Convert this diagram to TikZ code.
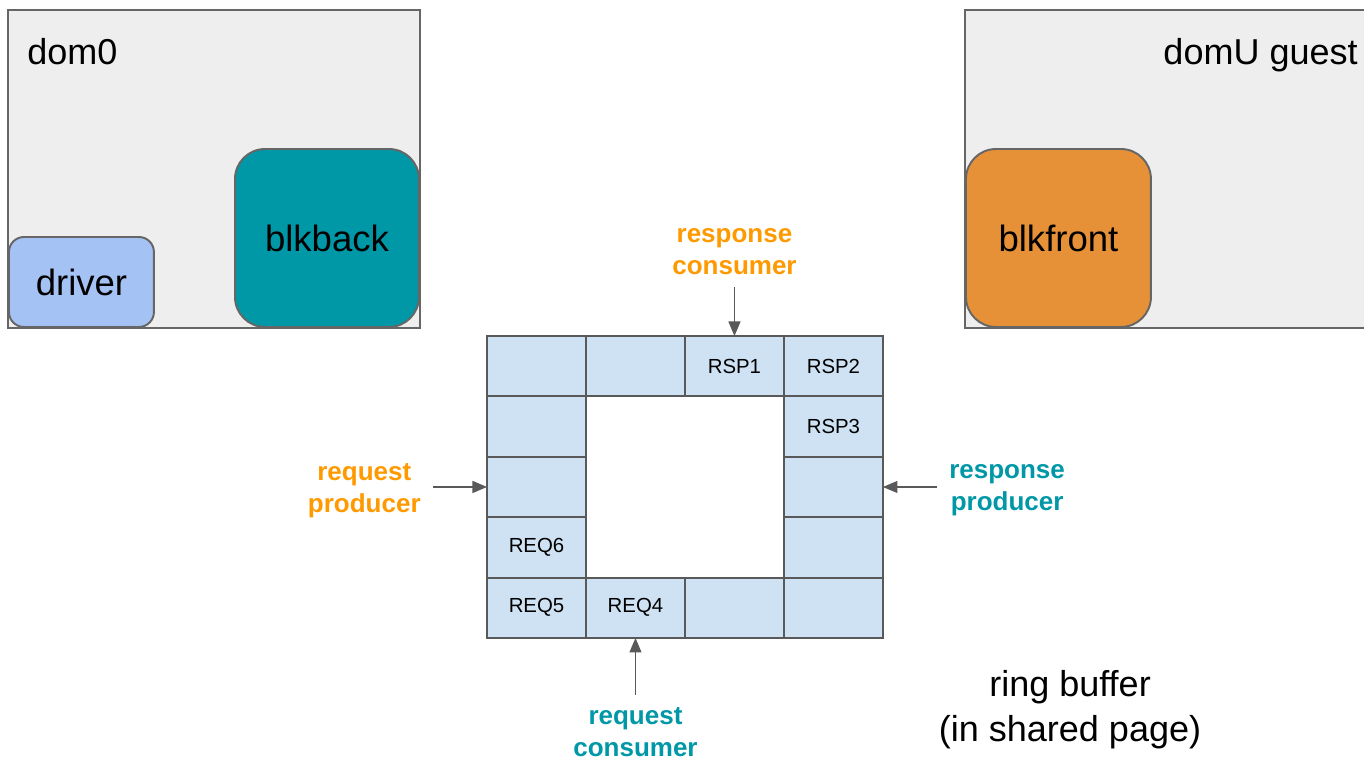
\documentclass[tikz,border=0pt]{standalone}
\usepackage{fontspec}
\setmainfont{Liberation Sans}
\usetikzlibrary{arrows,positioning}

\definecolor{domgray}{HTML}{EEEEEE}
\definecolor{edgegray}{HTML}{666666}
\definecolor{slotedge}{HTML}{595959}
\definecolor{slotblue}{HTML}{CFE2F3}
\definecolor{drvblue}{HTML}{A4C2F4}
\definecolor{backteal}{HTML}{0097A7}
\definecolor{frontorange}{HTML}{E69138}
\definecolor{labelorange}{HTML}{FF9900}

\tikzset{
  dombox/.style={draw=edgegray, fill=domgray, line width=1.1pt,
                 minimum height=6.36cm, inner sep=0pt, outer sep=0pt},
  part/.style={draw=edgegray, line width=1.1pt, inner sep=0pt,
               font=\fontsize{20.8}{24}\selectfont},
  slot/.style={draw=slotedge, fill=slotblue, line width=1.1pt,
               minimum width=1.98cm, minimum height=1.208cm,
               inner sep=0pt, outer sep=0pt,
               font=\fontsize{11.6}{14}\selectfont},
  role/.style={align=center, inner sep=2pt, font=\fontsize{14.8}{18.2}\selectfont\bfseries},
  big/.style={align=center, inner sep=0pt, font=\fontsize{20.5}{25.5}\selectfont},
  pointer/.style={->, draw=slotedge, line width=0.9pt, shorten <=5pt}
}

\begin{document}
\begin{tikzpicture}[x=0.02cm, y=-0.02cm, node distance=0pt, >=triangle 45]

\useasboundingbox (0,0) rectangle (1364,758);
\clip (0,0) rectangle (1364,758);

% the two domains
\node[dombox, minimum width=8.24cm, anchor=north west] (dom0) at (8,10) {};
\node[big, anchor=base west] (dom0name) at (27,64) {dom0};
\node[part, fill=drvblue, rounded corners=0.3cm, minimum width=2.9cm,
      minimum height=1.8cm, anchor=south west] (driver) at (dom0.south west) {driver};
\node[part, fill=backteal, rounded corners=0.6cm, minimum width=3.68cm,
      minimum height=3.56cm, anchor=south east] (blkback) at (dom0.south east) {blkback};

\node[dombox, minimum width=8.2cm, anchor=north west] (domU) at (965,10) {};
\node[big, anchor=base east] (domUname) at (1358,64) {domU guest};
\node[part, fill=frontorange, rounded corners=0.6cm, minimum width=3.7cm,
      minimum height=3.56cm, anchor=south west] (blkfront) at (domU.south west) {blkfront};

% ring slots
\node[slot, anchor=north west] (s11) at (487,336) {};
\node[slot, right=of s11] (s12) {};
\node[slot, right=of s12] (s13) {RSP1};
\node[slot, right=of s13] (s14) {RSP2};
\node[slot, below=of s11] (s21) {};
\node[slot, below=of s14] (s24) {RSP3};
\node[slot, below=of s21] (s31) {};
\node[slot, below=of s24] (s34) {};
\node[slot, below=of s31] (s41) {REQ6};
\node[slot, below=of s34] (s44) {};
\node[slot, below=of s41] (s51) {REQ5};
\node[slot, right=of s51] (s52) {REQ4};
\node[slot, right=of s52] (s53) {};
\node[slot, right=of s53] (s54) {};

% producers and consumers
\node[role, text=labelorange, above=1.15cm of s13] (rspcons) {response\\consumer};
\node[role, text=labelorange, left=1.25cm of s31, yshift=-0.07cm] (reqprod) {request\\producer};
\node[role, text=backteal, right=1.25cm of s34, yshift=-0.07cm] (rspprod) {response\\producer};
\node[role, text=backteal, below=1.31cm of s52] (reqcons) {request\\consumer};

\draw[pointer] (rspcons) -- (s13);
\draw[pointer] (reqprod.east |- s31) -- (s31);
\draw[pointer] (rspprod.west |- s34) -- (s34);
\draw[pointer] (reqcons) -- (s52);

\node[big] (ringname) at (1070,710) {ring buffer\\(in shared page)};

\end{tikzpicture}
\end{document}
